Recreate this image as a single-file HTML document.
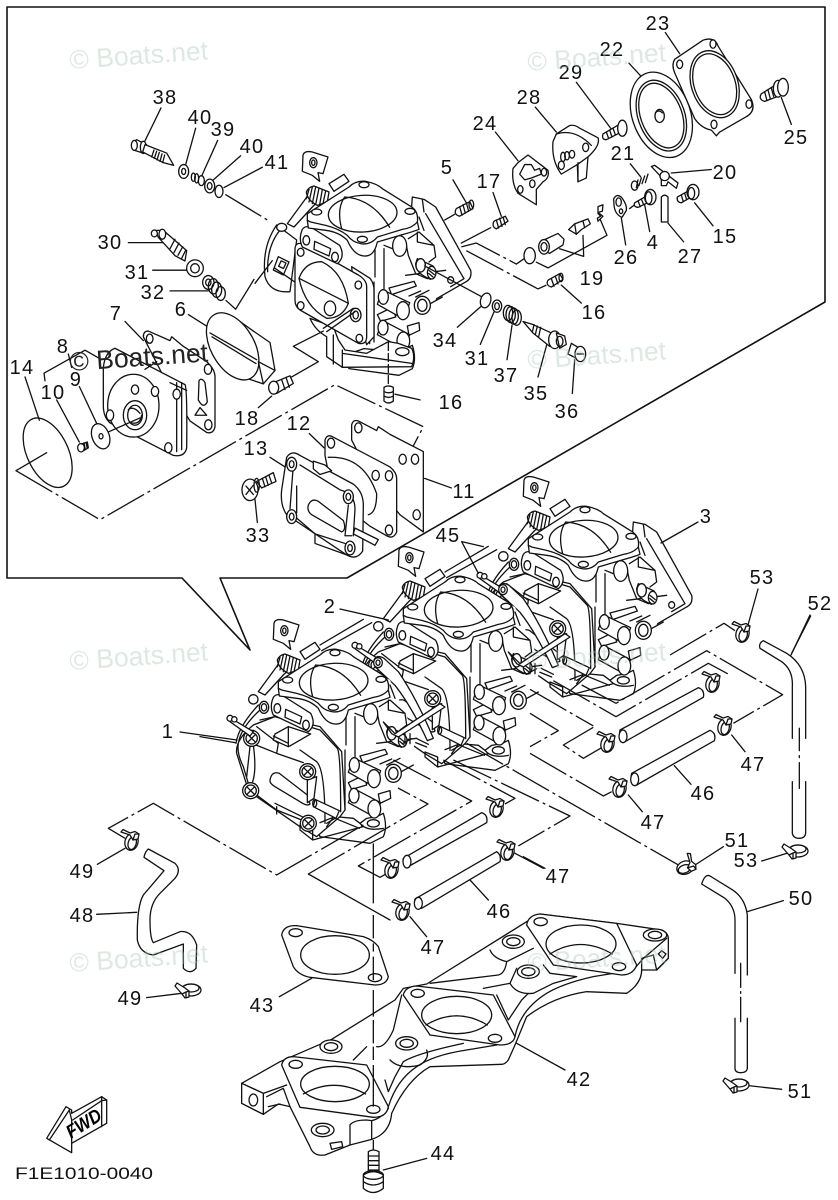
<!DOCTYPE html>
<html><head><meta charset="utf-8"><title>Carburetor diagram</title>
<style>
html,body{margin:0;padding:0;background:#fff}
svg{display:block}
path,ellipse,circle,line,rect,polygon,polyline{vector-effect:non-scaling-stroke}
.l{fill:none;stroke:#111;stroke-width:1.3;stroke-linejoin:round;stroke-linecap:round}
.w{fill:#fff}
.n{fill:none}
.d{stroke-dasharray:42 4 3 4;stroke-linecap:butt}
.t text{font-family:"Liberation Sans",sans-serif;font-size:20px;letter-spacing:1.3px;fill:#111;text-anchor:middle}
.m text{font-family:"Liberation Sans",sans-serif;font-size:26.5px;fill:#a9c2b3;fill-opacity:.38}
</style></head><body>
<svg xmlns="http://www.w3.org/2000/svg" width="838" height="1200" viewBox="0 0 838 1200">
<defs>
<g id="clip"><ellipse class="w" cx="0" cy="2" rx="6.500" ry="8.500" transform="rotate(15)"/><ellipse class="n" cx="1" cy="3" rx="4" ry="6.500" transform="rotate(15)"/><path class="w" d="M-11,-8 L-9,-10.500 L-2,-7 L3,-8.500 L7,-6 L6,-1 L1,0 L-2,-5 Z"/><path class="n" d="M1,0 L3,-6 L7,-6"/></g>
<g id="clipH"><ellipse class="w" cx="3" cy="-2" rx="10" ry="6"/><ellipse class="n" cx="3" cy="-4" rx="8" ry="4"/><path class="w" d="M-13,-6 L-11,-9 L-3,-4 L1,-1 L1,5 L-3,6 L-6,2 Z"/><path class="n" d="M-6,2 L-2,0 L1,-1 M-2,0 V6"/></g>
<g id="x"><circle class="w" cx="0" cy="0" r="24"/><circle class="n" cx="0" cy="0" r="17"/><path class="n" d="M-10,-10 L10,10 M-10,10 L10,-10"/></g>

<g id="carbS"><!-- side plate of rear/detail carbs -->
<path class="w" d="M490,165 L525,172 L560,195 L665,385 Q670,410 650,420 L530,489 L480,300Z"/>
<path class="n" d="M530,215 L645,410 L605,434 M520,172 L525,210"/>
<ellipse class="w" cx="605" cy="414" rx="9" ry="10"/>
</g>

<g id="carbB"><!-- body behind cover -->
<path d="M45,400 L120,240 L175,205 L320,120 L510,210 L560,320 L590,385 L520,590 L490,665 L440,695 L300,685 L240,650 L85,550 Z" fill="#fff" stroke="none"/>
<!-- right body -->
<path class="n" d="M405,320 V440 M378,320 V405 M430,320 L405,310"/>
<path class="n" d="M510,225 L525,265 M478,290 L510,270 L555,310 L560,345 L540,360 M470,300 L478,340 L500,395 L535,410 M505,270 V300 L555,310 M470,400 L590,385"/>
<path class="w" d="M505,350 L552,372 L560,395 L545,412 Q500,395 500,365Z"/><ellipse class="w" cx="515" cy="370" rx="14" ry="20"/><ellipse class="w" cx="548" cy="392" rx="13" ry="19"/><path class="n" d="M540,385 L556,398 M539,394 L552,405"/>
<ellipse class="w" cx="452" cy="312" rx="21" ry="31"/>
<!-- shafts under cylinders -->
<path class="w" d="M420,438 L495,418 L502,432 L428,458Z"/>
<path class="w" d="M475,552 L510,542 L512,565 L480,580Z"/><path class="w" d="M385,518 L432,495 L440,525 L395,538Z"/>
<!-- lower lug -->
<path class="w" d="M345,620 L400,625 L420,640 L440,625 L470,620 L490,610 Q503,650 490,680 L450,700 L300,680 L285,640Z"/>
<ellipse class="w" cx="460" cy="640" rx="18" ry="11"/>
<path class="n" d="M420,640 Q440,665 490,655"/>
<!-- rim lines -->
<path class="n" d="M375,420 V600 M362,425 V605"/>
<!-- cylinders -->
<path class="w" d="M400,443 L482,482 L465,532 L385,487 Z"/><ellipse class="w" cx="403" cy="465" rx="15" ry="22"/><ellipse class="w" cx="462" cy="506" rx="19" ry="27"/>
<path class="w" d="M400,535 L482,578 L465,622 L385,578 Z"/><ellipse class="w" cx="402" cy="557" rx="15" ry="22"/><ellipse class="w" cx="463" cy="597" rx="19" ry="27"/>
<ellipse class="w" cx="520" cy="490" rx="24" ry="27"/><ellipse class="w" cx="520" cy="490" rx="14" ry="18"/>
<path class="n" d="M480,462 L515,447 M500,465 L540,445 M544,485 L580,465"/>
</g>

<g id="carbP"><!-- cover with screws -->
<path class="w" d="M100,345 L165,320 L300,350 L365,425 L375,600 L360,620 L290,680 L240,650 L110,560 L85,540 L50,430 Q45,390 100,345Z"/>
<path class="n" d="M120,330 L165,320 L300,360 L352,415 Q362,430 362,605 M110,350 L175,400 L170,430 L250,458 M290,455 Q315,480 315,640 M240,420 L290,455 M108,405 L170,430"/>
<path class="n" d="M48,400 Q55,350 115,285 M56,395 Q65,350 122,298 M55,400 Q50,430 70,470 L85,520 M100,405 Q110,480 98,515 M90,410 L80,500"/>
<path class="n" d="M110,555 L170,600 L245,630 M170,590 V612 M165,580 L250,622 M240,660 L278,690 M278,690 V660 L240,645 V660 M278,690 L430,650 M320,640 L345,625 L418,655"/>
<path class="w" d="M165,372 L205,350 L272,372 L215,405 L205,410 L160,390 Z"/><path class="n" d="M205,350 L205,410 M160,378 L205,400"/>
<path class="w" d="M150,510 Q155,482 178,490 L262,555 L270,582 Q262,590 240,575 L165,530 Q148,520 150,510Z"/>
<path class="w" d="M262,510 L290,500 L282,565 L262,578Z"/>
<path class="w" d="M285,568 L358,602 L348,625 L280,590Z"/><ellipse class="n" cx="284" cy="580" rx="6" ry="11"/>
<path class="n" d="M300,638 L340,622 L320,650"/>
<use href="#x" x="95" y="385"/><use href="#x" x="92" y="542"/><use href="#x" x="263" y="485"/>
<path class="w" d="M25,320 L100,365 L90,378 L30,335Z"/><circle class="w" cx="30" cy="325" r="9"/><circle class="w" cx="43" cy="328" r="8"/>
<circle class="w" cx="100" cy="268" r="14"/>
<ellipse class="w" cx="132" cy="292" rx="14" ry="18"/><ellipse class="n" cx="132" cy="292" rx="8" ry="11"/>
</g>

<g id="carbF"><!-- flange, spring, bracket -->
<path class="w" d="M162,40 Q165,25 190,30 L237,45 L222,95 L207,92 L212,118 L190,100 L160,88 Z"/>
<ellipse class="w" cx="193" cy="62" rx="11" ry="15"/><ellipse class="n" cx="193" cy="62" rx="5" ry="8"/>
<path class="w" d="M115,245 L170,170 L180,155 L215,170 L190,195 L135,255 Z"/>
<path class="w" d="M240,125 L285,97 L300,118 L255,148Z"/>
<path class="w" d="M172,150 Q178,135 195,132 L240,150 L235,180 L205,190 Q175,175 172,150Z"/>
<path class="n" d="M180,142 L172,170 M190,135 L180,180 M200,135 L190,185 M210,138 L200,188 M220,142 L212,188 M230,147 L222,185"/>
<!-- lozenge -->
<path class="w" d="M160,262 Q170,248 190,258 L272,310 Q290,345 265,365 L160,315 Q148,290 160,262Z"/>
<ellipse class="w" cx="172" cy="295" rx="10" ry="14"/><ellipse class="w" cx="258" cy="345" rx="10" ry="14"/>
<path class="w" d="M197,298 L245,320 L240,342 L195,322Z"/>
<!-- flange -->
<path class="w" d="M175,215 L300,135 Q320,115 350,118 Q385,125 400,140 L480,190 Q510,205 505,240 L510,262 Q490,270 460,278 L385,300 Q375,345 345,342 Q315,340 295,295 Q270,270 230,265 L178,258 L175,235Z"/>
<path class="n" d="M175,235 L185,240 L230,250 Q270,260 295,280 Q310,300 335,305 Q365,310 385,285 L460,262 Q490,258 505,240"/>
<ellipse class="w" cx="341" cy="215" rx="103" ry="55" transform="rotate(-3 341 215)"/>
<path class="n" d="M278,260 Q262,200 287,165 M287,165 Q370,170 422,256"/>
<ellipse class="w" cx="203" cy="210" rx="15" ry="9"/><ellipse class="w" cx="345" cy="128" rx="15" ry="9"/><ellipse class="w" cx="483" cy="208" rx="15" ry="9"/><ellipse class="w" cx="340" cy="292" rx="15" ry="9"/>
</g>

<g id="band">
<path class="w" d="M462,150 Q470,132 492,145 L535,185 Q590,265 640,385 L622,392 Q575,290 525,226 L465,170Z"/>
<ellipse class="w" cx="474" cy="158" rx="13" ry="15"/><ellipse class="n" cx="474" cy="158" rx="6" ry="8"/>
</g>
</defs>

<g class="l">
<!-- FRAME -->
<path d="M7,7 H825 V302 L347,578 H220 L250,650 L182,578 H7 Z" stroke-width="1.6"/>

<!-- MAIN VIEW -->
<g transform="translate(470,467) scale(.33333)">
<use href="#carbS"/><use href="#carbB"/><use href="#carbP"/><use href="#carbF"/>
</g>
<g transform="translate(345,537) scale(.33333)"><use href="#band"/></g>
<g transform="translate(345,537) scale(.33333)">
<path d="M300,105 L430,28 M305,122 L455,38"/>
<use href="#carbB"/><use href="#carbP"/><use href="#carbF"/>
</g>
<g transform="translate(220,610) scale(.33333)"><use href="#band"/></g>
<g transform="translate(470,467) scale(.33333)">
<path class="w" d="M115,555 L140,590 L160,600 L300,510 L285,500 L150,590 Z"/>
<path class="n" d="M180,590 V620 M195,590 V620 M172,620 L200,605"/>
</g>
<g transform="translate(220,610) scale(.33333)">
<path d="M300,105 L430,28 M305,122 L455,38"/>
<use href="#carbB"/><use href="#carbP"/><use href="#x" x="265" y="640"/><use href="#carbF"/>
</g>
<g transform="translate(345,537) scale(.33333)">
<path class="w" d="M115,555 L140,590 L160,600 L300,510 L285,500 L150,590 Z"/>
<path class="n" d="M180,590 V620 M195,590 V620 M172,620 L200,605"/>
</g>
<g transform="translate(200,500) scale(.33333)">
<path d="M0,710 L105,728 M420,327 L565,360 M785,125 L850,140 M785,125 L835,220"/>
</g>
<path d="M698,522 L661,543 M758,589 L748,625 M810,615 L791,655 M180,732 L237,740"/>

<!-- chains main -->
<g transform="translate(530,590) scale(.33333)">
<path class="d" d="M420,195 L582,100 L615,122"/>
<path class="d" d="M155,285 L258,340 L530,182 L758,314 L610,400"/>
<path class="d" d="M70,272 L258,380 L535,220 L600,255"/>
<path class="d" d="M190,412 L100,465 L160,505 L220,470"/>
<path class="d" d="M0,298 L190,408"/>
<path class="d" d="M0,370 L85,422 L0,470"/>
<path class="d" d="M0,490 L220,618 L245,605"/>
<path class="d" d="M-190,460 L445,825"/>
<path d="M605,435 L645,485 M433,527 L483,583 M295,615 L337,665 M495,825 L580,770 M695,813 L770,790 M-20,800 L45,835"/>
<!-- tubes -->
<path class="w" d="M270,420 L505,293 Q525,300 520,322 L285,455 Q265,450 270,420Z"/><ellipse class="w" cx="279" cy="439" rx="12" ry="19"/>
<path class="w" d="M305,550 L540,421 Q560,430 553,452 L320,585 Q298,578 305,550Z"/><ellipse class="w" cx="314" cy="568" rx="12" ry="19"/>
</g>
<use href="#clip" x="743" y="632"/><use href="#clip" x="713" y="682"/><use href="#clip" x="608" y="742"/><use href="#clip" x="725" y="725"/><use href="#clip" x="620" y="787"/>
<g transform="translate(687,867) rotate(55)"><use href="#clip"/></g>
<use href="#clipH" x="795" y="853"/>

<!-- hose 52 -->
<g transform="translate(530,590) scale(.33333)">
<path class="n" d="M787,445 V290 Q790,240 755,215 L690,175 Q685,160 700,152 L770,190 Q825,225 827,290 V445"/>
<path class="w" d="M787,575 V730 Q790,745 808,745 Q825,745 827,730 V575"/>
<path d="M808,415 V482 M808,497 V503 M808,518 V595"/>
<path d="M785,190 L842,78"/>
</g>
<!-- hose 50 -->
<g transform="translate(680,860) scale(.33333)">
<path class="n" d="M202,345 V165 Q195,110 150,85 L90,48 Q75,40 65,72 L135,115 Q165,140 165,180 V340"/>
<path class="w" d="M165,475 V625 Q165,638 183,638 Q200,638 202,625 V475"/>
<path d="M182,310 V382 M182,395 V400 M182,412 V485 M202,155 L310,122 M205,677 L305,688"/>
</g>
<use href="#clipH" x="736" y="1087"/>

<!-- lower-left chains / hose 48 -->
<g transform="translate(90,770) scale(.33333)">
<path class="d" d="M105,205 L55,175 L190,100 L560,315 L820,165"/>
<path class="d" d="M655,312 L1014,102 L924,54"/>
<path d="M655,312 L900,450"/>
<path class="w" d="M175,237 Q165,245 162,262 L222,302 Q190,340 160,375 Q140,410 142,510 Q150,550 190,555 L280,522 V595 Q300,615 318,595 L320,525 Q305,480 270,485 L190,518 Q180,505 180,450 Q180,400 210,370 L255,325 Q275,300 255,280 Z"/>
<path d="M22,283 L105,235 M20,433 L140,427 M170,683 L275,670"/>
</g>
<g transform="translate(300,740) scale(.33333)">
<path class="d" d="M280,60 L515,183 L175,378 L240,412 L265,398"/>
<path class="d" d="M430,60 L645,175 L615,192"/>
<path class="d" d="M460,60 L810,228 L655,318"/>
</g>
<use href="#clip" x="132" y="840"/><use href="#clipH" x="188" y="992"/>
<use href="#clip" x="392" y="868"/><use href="#clip" x="403" y="910"/><use href="#clip" x="497" y="807"/><use href="#clip" x="508" y="850"/>
<g transform="translate(200,500) scale(.33333)">
<path class="w" d="M610,1075 L845,938 Q865,945 860,968 L628,1098 Q605,1095 610,1075Z"/><ellipse class="w" cx="621" cy="1085" rx="12" ry="19"/>
<path d="M945,1060 L1030,1105"/>
</g>
<g transform="translate(200,880) scale(.33333)">
<path class="w" d="M645,57 L890,-85 Q905,-75 900,-55 L665,85 Q640,85 645,57Z"/><ellipse class="w" cx="655" cy="70" rx="12" ry="18"/>
<path d="M810,0 L865,60 M630,110 L680,170"/>

<!-- 43 gasket -->
<path class="w" d="M245,165 Q250,135 290,137 L490,170 Q520,180 535,200 L565,290 Q560,315 525,315 L330,292 Q295,285 280,260 Z"/>
<ellipse class="w" cx="405" cy="225" rx="103" ry="58"/>
<ellipse class="w" cx="287" cy="158" rx="20" ry="12"/><ellipse class="w" cx="525" cy="293" rx="20" ry="12"/>
<path d="M238,350 L335,295"/>

<!-- 42 manifold -->
<path class="w" d="M125,610 L240,545 L395,478 L585,360 L610,325 L680,312 L980,125 L1020,102 L1250,130 L1385,150 Q1405,160 1405,175 V235 L1370,270 L1325,270 Q1325,310 1280,340 L1160,335 Q1060,350 980,410 L945,495 L925,540 Q915,553 905,553 L690,560 Q620,600 575,700 Q570,760 515,778 L450,795 L375,825 Q340,830 330,800 L270,680 L235,672 L190,703 L125,670 Z"/>
<path d="M190,640 L260,615 M190,640 V703 M125,610 L190,640 M200,650 L250,625 L270,680 M205,680 L240,672"/>
<path d="M565,680 Q590,600 650,560 Q700,525 800,510 L890,495 M945,470 Q960,390 1040,340 Q1090,310 1180,290 L1300,270 L1330,235 L1400,175 M1325,270 V235 L1360,225 L1370,270 M1405,235 L1370,270"/>
<path d="M450,795 V735 Q460,720 500,720 L515,722 V778 M515,722 Q545,715 565,685"/>
<path d="M460,540 L500,500 M530,500 Q555,505 580,450 L605,345 M555,600 L565,635 L585,590 L610,545 Q650,520 790,490 M570,540 Q600,570 660,555 Q690,535 680,510"/>
<path d="M870,210 Q880,235 920,245 L1000,205 M920,245 Q915,280 895,285 L690,310 M850,325 L930,310 Q950,345 1000,340 L1060,310 L1130,290 L1050,280 L1030,255 M930,310 L950,265 M890,345 L925,420 L965,360 L985,340"/>
<ellipse class="w" cx="393" cy="500" rx="33" ry="20"/><ellipse class="n" cx="393" cy="500" rx="20" ry="12"/>
<ellipse class="w" cx="940" cy="185" rx="33" ry="20"/><ellipse class="n" cx="940" cy="185" rx="20" ry="12"/>
<ellipse class="w" cx="620" cy="490" rx="33" ry="20"/><ellipse class="n" cx="620" cy="490" rx="20" ry="12"/>
<ellipse class="w" cx="985" cy="275" rx="33" ry="20"/><ellipse class="n" cx="985" cy="275" rx="20" ry="12"/>
<ellipse class="w" cx="368" cy="750" rx="34" ry="20"/><ellipse class="n" cx="368" cy="750" rx="20" ry="12"/>
<ellipse class="w" cx="1365" cy="165" rx="35" ry="18"/><ellipse class="n" cx="1365" cy="165" rx="20" ry="11"/>
<path class="w" d="M390,790 L425,785 L428,800 L395,808Z"/>
<path class="w" d="M1375,222 L1385,212 L1398,222 L1388,235Z"/>
<!-- flanges -->
<path class="w" d="M245,555 Q250,530 280,530 L500,555 L565,680 Q560,712 520,712 L300,682 Z"/>
<ellipse class="w" cx="405" cy="612" rx="103" ry="53"/><path d="M310,642 Q400,590 497,642"/>
<ellipse class="w" cx="287" cy="553" rx="20" ry="12"/><ellipse class="w" cx="520" cy="688" rx="20" ry="12"/>
<path class="w" d="M610,345 Q615,320 650,318 L880,345 L945,470 Q940,495 900,495 L690,465 Z"/>
<ellipse class="w" cx="770" cy="405" rx="105" ry="56"/><path d="M678,435 Q770,380 862,435"/>
<ellipse class="w" cx="653" cy="340" rx="20" ry="12"/><ellipse class="w" cx="885" cy="475" rx="20" ry="12"/>
<path class="w" d="M980,135 Q985,105 1020,102 L1250,130 L1310,255 Q1300,285 1265,285 L1060,255 Z"/>
<ellipse class="w" cx="1143" cy="192" rx="105" ry="57"/><path d="M1050,222 Q1140,165 1237,222"/>
<ellipse class="w" cx="1022" cy="125" rx="20" ry="12"/><ellipse class="w" cx="1257" cy="260" rx="20" ry="12"/>
<path class="w" d="M190,640 L190,703 L125,670 V610 Z"/><ellipse class="w" cx="160" cy="660" rx="13" ry="18"/>
<!-- 44 -->
<path class="w" d="M505,815 Q520,805 537,815 V880 H505Z"/>
<path d="M505,828 H537 M505,842 H537 M505,856 H537 M505,870 H537"/>
<path class="w" d="M490,885 Q520,865 550,885 V925 Q520,950 490,925Z"/><ellipse class="n" cx="520" cy="885" rx="30" ry="13"/><path d="M490,905 Q520,925 550,905"/>
<path d="M550,870 L680,835 M950,490 L1095,570"/>
<!-- vertical chain -->
<path d="M520,-110 V75 M520,105 V175 M520,190 V215 M520,230 V300 M520,330 V410 M520,420 V490 M520,500 V540 M520,555 V680 M520,780 V810" stroke-dasharray="60 5 4 5" stroke-linecap="butt"/>
</g>
<!-- FWD arrow -->
<g transform="translate(0,1060) scale(.33333)">
<path class="w" d="M140,235 L198,140 L215,150 L215,160 L305,110 L320,120 V190 L215,250 V278 Z"/>
<path d="M148,240 L208,150 M305,110 V122 L320,120 M218,180 L305,122 V200 M215,180 V250"/>
<path d="M208,150 L215,180"/>
</g>

<!-- DETAIL VIEW carb -->
<g transform="translate(249,142) scale(.33333)">
<use href="#carbS"/><use href="#carbB"/>
</g>
<g transform="translate(255,140) scale(.33333)">
<path class="w" d="M65,255 Q20,320 30,410 Q45,460 105,455 L125,300Z"/>
<path class="n" d="M75,270 Q35,320 38,395"/><ellipse class="w" cx="80" cy="262" rx="15" ry="12"/>
<path class="w" d="M70,350 L102,366 L85,405 L55,390Z"/><rect class="n" x="74" y="365" width="16" height="18" transform="rotate(25 82 374)"/>
<path d="M60,385 L125,430 M0,430 L52,362"/>
<path class="w" d="M165,535 Q180,570 215,590 V650 L262,682 L470,680 Q482,650 470,625 L430,610 L400,605 L335,640 L270,630 L250,600 L235,560Z"/>
<path class="n" d="M235,585 V672 M262,630 V682 M262,640 L470,670"/>
<ellipse class="w" cx="442" cy="635" rx="20" ry="12"/>
<path class="w" d="M290,380 L345,415 Q357,430 357,450 V590 L335,614 L300,500Z"/>
<path class="w" d="M120,325 Q122,305 145,312 L310,405 Q335,420 335,440 V590 Q335,615 310,610 L135,510 Q120,500 120,480 Z"/>
<path class="n" d="M132,415 Q150,365 200,365 Q265,395 280,490 Q262,535 215,535 Q150,500 132,415Z"/>
<path d="M132,415 L280,490"/>
<ellipse class="w" cx="225" cy="505" rx="17" ry="22"/>
<ellipse class="w" cx="137" cy="337" rx="10" ry="12"/><ellipse class="w" cx="310" cy="435" rx="10" ry="12"/><ellipse class="w" cx="137" cy="497" rx="10" ry="12"/><ellipse class="w" cx="313" cy="595" rx="10" ry="12"/>
<ellipse class="w" cx="302" cy="525" rx="16" ry="20"/><ellipse class="n" cx="302" cy="525" rx="8" ry="12"/>
<path d="M215,575 L300,515 M205,565 L295,505"/>
</g>
<g transform="translate(249,142) scale(.33333)"><use href="#carbF"/></g>

<!-- zoom1 coordinate group -->
<g transform="scale(.33333,.38270)">
<path d="M483,282 L435,368 M587,335 L557,430 M653,367 L605,460 M722,407 L640,470 M787,437 L672,490 M385,634 H490 M458,706 H565 M510,760 H625 M565,822 L625,855 M375,840 L430,890 M75,985 L118,1098 M170,1045 L238,1155 M238,1010 L292,1110 M775,1065 L815,1035 M928,1133 L972,1170 M810,1195 L855,1220 M765,1305 L772,1365 M205,925 L215,960 M1185,1030 L1260,1045"/>
<path class="d" d="M676,508 L812,580"/>
<path d="M678,785 L707,808 L762,730"/>
<path d="M135,995 L132,975 L255,915 L305,940"/>
<path class="d" d="M48,1230 L300,1358 L1005,1005 L1270,1115 L1240,1165"/>
<path d="M48,1230 L140,1183"/>
<path d="M875,985 L955,945 L880,905 L970,865"/>
<path d="M1165,895 V1010" stroke-dasharray="8 3"/>

<!-- 38 screw -->
<path class="w" d="M395,375 L410,365 L440,378 L430,400 L400,392 Z"/><ellipse class="w" cx="403" cy="380" rx="9" ry="13"/><ellipse class="w" cx="430" cy="385" rx="9" ry="16"/>
<path class="w" d="M435,378 L500,400 L521,432 L490,425 L428,397Z"/>
<path d="M462,392 L455,410 M470,395 L463,414 M478,398 L471,418 M486,402 L480,422 M494,405 L488,425"/>
<!-- 40 39 40 41 -->
<ellipse class="w" cx="551" cy="448" rx="15" ry="18"/><ellipse class="n" cx="551" cy="448" rx="6" ry="8"/>
<ellipse class="n" cx="580" cy="463" rx="6" ry="11"/><ellipse class="n" cx="590" cy="466" rx="6" ry="12"/><ellipse class="n" cx="604" cy="472" rx="9" ry="13"/>
<ellipse class="w" cx="629" cy="486" rx="15" ry="18"/><ellipse class="n" cx="629" cy="486" rx="7" ry="9"/>
<ellipse class="n" cx="657" cy="500" rx="12" ry="16"/>
<!-- 30 -->
<path class="w" d="M465,602 L490,602 L560,655 L555,682 L525,668 L475,620Z"/><circle class="w" cx="463" cy="610" r="9"/><ellipse class="w" cx="487" cy="612" rx="10" ry="13"/>
<path d="M525,625 L510,650 M537,635 L522,660 M548,645 L534,667 M557,654 L545,675"/>
<!-- 31 32 -->
<ellipse class="w" cx="585" cy="701" rx="25" ry="22"/><ellipse class="n" cx="585" cy="701" rx="13" ry="12"/>
<ellipse class="n" cx="625" cy="738" rx="17" ry="18"/><ellipse class="n" cx="625" cy="738" rx="8" ry="9"/><ellipse class="n" cx="640" cy="748" rx="15" ry="20"/><ellipse class="n" cx="650" cy="757" rx="15" ry="20"/><ellipse class="n" cx="662" cy="767" rx="14" ry="18"/>
<!-- 6 -->
<path class="w" d="M720,840 L760,865 L810,895 L825,968 L790,1003 L745,990 L700,960Z"/>
<ellipse class="w" cx="698" cy="905" rx="62" ry="100" transform="rotate(-38 698 905)"/>
<path d="M630,870 L770,940 M636,880 L768,950 M775,945 L790,1003 M775,945 L825,968"/>
<!-- 7 -->
<path class="w" d="M430,880 Q430,865 445,865 L510,890 L515,880 L550,905 L620,945 Q645,965 645,985 V1115 Q640,1135 620,1130 L570,1100 L500,1000Z"/>
<ellipse class="w" cx="449" cy="885" rx="10" ry="12"/><ellipse class="w" cx="624" cy="965" rx="11" ry="13"/><ellipse class="w" cx="625" cy="1110" rx="11" ry="13"/>
<path d="M597,995 Q605,985 615,1000 L622,1050 Q610,1070 595,1045Z M600,1065 L620,1085 L585,1085Z"/>
<!-- cover -->
<path class="w" d="M310,960 Q315,920 345,910 L555,1005 Q562,1015 560,1170 Q555,1195 520,1190 L330,1105 Q310,1090 310,1060Z"/>
<path d="M435,965 L470,945 M545,1000 V1175 M530,1000 V1180 M510,1000 L560,1020"/>
<ellipse class="w" cx="400" cy="1060" rx="77" ry="82"/>
<ellipse class="w" cx="405" cy="1085" rx="35" ry="38"/><ellipse class="n" cx="405" cy="1085" rx="22" ry="26"/>
<path d="M385,1070 Q400,1060 420,1080 M395,1105 Q420,1110 425,1085"/>
<ellipse class="w" cx="465" cy="1023" rx="11" ry="13"/><ellipse class="w" cx="405" cy="1018" rx="11" ry="12"/><ellipse class="w" cx="330" cy="1085" rx="11" ry="14"/><ellipse class="w" cx="530" cy="1030" rx="11" ry="13"/><ellipse class="w" cx="505" cy="1170" rx="11" ry="13"/>
<path d="M327,1128 L420,1092"/>
<!-- 14, 9, 10 -->
<ellipse class="n" cx="143" cy="1183" rx="60" ry="100" transform="rotate(-32 143 1183)"/>
<ellipse class="w" cx="302" cy="1140" rx="25" ry="35" transform="rotate(-30 302 1140)"/><ellipse class="n" cx="303" cy="1140" rx="6" ry="7"/>
<ellipse class="w" cx="243" cy="1170" rx="10" ry="11"/><path d="M245,1160 L262,1155 L265,1170 L250,1178 M252,1157 L256,1175 M258,1156 L262,1172"/>
<!-- 18 -->
<path class="w" d="M820,1000 L870,982 L880,1002 L830,1028Z"/><ellipse class="w" cx="821" cy="1013" rx="15" ry="17"/>
<path d="M845,992 L855,1018 M858,986 L868,1012"/>
<!-- 16 lower -->
<path class="w" d="M1152,1012 Q1165,1005 1180,1012 V1048 Q1165,1058 1152,1048Z"/><path d="M1152,1023 Q1165,1030 1180,1023 M1152,1035 Q1165,1042 1180,1035"/>
<!-- 11, 12 -->
<path class="w" d="M1055,1150 V1110 Q1060,1095 1075,1100 L1130,1125 L1135,1115 L1170,1135 L1270,1180 L1270,1390 L1200,1345 L1120,1260Z"/>
<ellipse class="w" cx="1075" cy="1118" rx="11" ry="13"/><ellipse class="w" cx="1208" cy="1200" rx="11" ry="13"/><ellipse class="w" cx="1245" cy="1200" rx="11" ry="13"/><ellipse class="w" cx="1250" cy="1345" rx="11" ry="13"/>
<path class="w" d="M975,1190 V1150 Q980,1135 995,1140 L1170,1220 Q1190,1235 1190,1250 V1390 Q1180,1410 1160,1400 L1110,1375 L1000,1300Z"/>
<ellipse class="w" cx="993" cy="1158" rx="11" ry="13"/><ellipse class="w" cx="1127" cy="1242" rx="11" ry="13"/><ellipse class="w" cx="1167" cy="1243" rx="11" ry="13"/><ellipse class="w" cx="1167" cy="1385" rx="11" ry="13"/>
<path d="M985,1195 Q1090,1190 1130,1290 Q1130,1340 1105,1345"/>
<!-- 13 -->
<path class="w" d="M860,1195 Q875,1175 900,1190 L1060,1265 Q1090,1285 1090,1320 L1088,1440 Q1070,1465 1040,1450 L860,1345 Q840,1320 845,1280 Z"/>
<path d="M880,1215 L870,1330 M900,1215 L1020,1280 Q1065,1290 1065,1330 L1060,1400 M885,1350 L945,1395 L1035,1420 M945,1395 V1420 L1040,1450 M890,1270 V1340 M1045,1320 L1035,1400 L1055,1400"/>
<path class="w" d="M940,1205 L975,1215 L995,1230 L960,1240 L940,1225Z"/>
<path class="w" d="M925,1320 Q935,1300 955,1310 L1030,1360 Q1040,1385 1025,1390 L935,1345 Q920,1335 925,1320Z"/>
<ellipse class="w" cx="875" cy="1213" rx="15" ry="18"/><ellipse class="n" cx="875" cy="1213" rx="7" ry="9"/>
<ellipse class="w" cx="1045" cy="1298" rx="15" ry="18"/><ellipse class="n" cx="1045" cy="1298" rx="7" ry="9"/>
<ellipse class="w" cx="875" cy="1350" rx="15" ry="18"/><ellipse class="n" cx="875" cy="1350" rx="7" ry="9"/>
<ellipse class="w" cx="1050" cy="1432" rx="15" ry="18"/><ellipse class="n" cx="1050" cy="1432" rx="7" ry="9"/>
<path class="w" d="M1065,1380 L1135,1410 L1125,1425 L1060,1395Z"/>
<!-- 33 screw -->
<path class="w" d="M770,1258 L820,1235 L828,1258 L785,1275Z"/><path d="M787,1250 L795,1272 M797,1246 L805,1268 M807,1242 L815,1262"/>
<ellipse class="w" cx="750" cy="1280" rx="24" ry="28"/><path d="M738,1270 L760,1292 M738,1292 L760,1268"/><ellipse class="n" cx="770" cy="1268" rx="8" ry="18"/>
</g>

<!-- zoom2 coordinate group -->
<g transform="translate(418,0) scale(.33333,.38270)">
<path d="M742,85 L785,140 M633,165 L675,205 M475,215 L578,335 M352,280 L415,345 M232,345 L300,420 M105,470 L145,530 M80,575 L110,560 M225,503 L250,565 M130,635 L218,595 M637,428 L668,462 M760,452 L880,443 M680,535 L695,605 M610,570 L623,640 M635,545 L650,535 M750,583 L797,632 M830,530 L885,590 M430,745 L490,792 M118,855 L190,800 M187,900 L228,815 M267,940 L282,850 M360,985 L388,895 M463,1028 L470,940 M20,1250 L100,1275 M1090,255 L1120,325"/>
<path class="d" d="M130,645 L175,635 L295,690 L320,675"/>
<path class="d" d="M145,655 L360,755 L385,745"/>
<path d="M355,685 L390,700 L567,615 L545,570 M497,670 L425,650 M497,670 L495,615 M20,695 L190,775" />
<!-- 23 -->
<path class="w" d="M770,155 L855,105 Q890,95 900,120 L1000,260 Q1015,290 985,305 L905,345 L895,355 L880,340 Q850,335 830,310 L770,190 Q760,170 770,155Z"/>
<ellipse class="w" cx="890" cy="220" rx="68" ry="92" transform="rotate(-28 890 220)"/><ellipse class="n" cx="890" cy="220" rx="60" ry="84" transform="rotate(-28 890 220)"/>
<ellipse class="w" cx="785" cy="168" rx="9" ry="11"/><ellipse class="w" cx="885" cy="115" rx="9" ry="11"/><ellipse class="w" cx="993" cy="272" rx="9" ry="11"/><ellipse class="w" cx="888" cy="325" rx="9" ry="11"/>
<!-- 22 -->
<ellipse class="w" cx="730" cy="300" rx="85" ry="118" transform="rotate(-28 730 300)"/>
<ellipse class="n" cx="730" cy="302" rx="68" ry="98" transform="rotate(-28 730 302)"/><ellipse class="n" cx="730" cy="302" rx="60" ry="90" transform="rotate(-28 730 302)"/>
<ellipse class="w" cx="725" cy="303" rx="14" ry="17"/><path d="M712,295 Q722,285 733,295"/>
<!-- 25 -->
<path class="w" d="M1030,245 L1085,215 L1100,245 L1040,265 Q1020,260 1030,245Z"/><path d="M1040,240 L1047,263 M1050,235 L1057,258 M1060,230 L1067,252 M1070,225 L1077,248"/>
<ellipse class="w" cx="1080" cy="232" rx="14" ry="22"/><ellipse class="w" cx="1095" cy="228" rx="16" ry="23"/>
<!-- 29 -->
<path class="w" d="M555,350 L600,327 L610,345 L565,365 Q550,365 555,350Z"/><path d="M565,345 L572,362 M575,340 L582,358 M585,335 L592,352"/><ellipse class="w" cx="613" cy="335" rx="14" ry="21"/>
<!-- 28 -->
<path class="w" d="M415,350 L455,328 Q470,325 485,335 L540,360 Q548,380 510,410 L505,465 L480,475 L478,430 L430,455 Q400,420 405,370 Z"/>
<path d="M478,430 L510,410 M480,425 V475 M415,350 Q470,335 520,380"/>
<ellipse class="w" cx="503" cy="385" rx="9" ry="11"/><ellipse class="w" cx="430" cy="432" rx="9" ry="11"/><ellipse class="n" cx="435" cy="410" rx="7" ry="12"/><ellipse class="n" cx="447" cy="407" rx="7" ry="11"/><ellipse class="n" cx="462" cy="403" rx="8" ry="10"/>
<!-- 24 -->
<path class="w" d="M300,425 L330,405 L390,445 Q395,465 375,475 L355,495 V535 L300,505 Q280,480 285,440 Z"/>
<path d="M320,430 L340,430 L350,445 L365,440 L370,455 L340,465 L320,470 L305,455 Z"/>
<ellipse class="w" cx="378" cy="450" rx="8" ry="10"/><ellipse class="w" cx="343" cy="480" rx="8" ry="10"/><ellipse class="w" cx="307" cy="495" rx="8" ry="10"/>
<!-- 5 17 16 -->
<path class="w" d="M115,545 L155,527 L165,545 L125,565 Q105,560 115,545Z"/><path d="M125,540 L132,562 M135,535 L142,557 M145,530 L152,552"/><ellipse class="n" cx="160" cy="535" rx="7" ry="12"/>
<path class="w" d="M228,578 L262,565 L270,578 L235,598 Q220,592 228,578Z"/><path d="M235,575 L242,596 M245,570 L252,592 M255,567 L262,587"/>
<path class="w" d="M390,732 L425,715 L435,730 L400,750 Q382,745 390,732Z"/><path d="M400,728 L408,748 M412,722 L420,742"/><ellipse class="n" cx="429" cy="725" rx="6" ry="11"/>
<!-- O ring, 19 -->
<ellipse class="w" cx="335" cy="668" rx="17" ry="21"/>
<path class="w" d="M370,630 L420,610 L438,625 L435,640 L395,662 Q360,650 370,630Z"/><ellipse class="w" cx="378" cy="645" rx="16" ry="19"/><ellipse class="n" cx="378" cy="645" rx="9" ry="11"/>
<path class="w" d="M470,585 L510,572 L517,585 L490,600 L475,612 L452,600Z"/><path d="M470,585 L475,612 M495,578 L500,595"/>
<path class="w" d="M540,540 L555,535 L553,552 L540,555 L555,565 L540,578 L538,570 L548,565 L540,558Z"/>
<!-- 21 20 -->
<ellipse class="n" cx="650" cy="485" rx="10" ry="12"/><path d="M660,470 L655,490 M670,465 L663,485 M680,460 L672,480 M690,455 L682,477"/>
<path class="w" d="M700,435 L710,432 L735,448 L780,478 L775,492 L750,475 L745,485 H730 V470 L725,458 Z"/><ellipse class="w" cx="740" cy="460" rx="14" ry="12"/>
<!-- 4 15 26 27 -->
<path class="w" d="M650,530 L690,510 L700,525 L660,542 Q645,540 650,530Z"/><path d="M660,525 L667,540 M670,520 L677,535 M680,515 L687,530"/><ellipse class="w" cx="697" cy="515" rx="17" ry="20"/><ellipse class="n" cx="692" cy="517" rx="10" ry="16"/>
<path class="w" d="M778,515 L815,497 L825,512 L790,530 Q775,528 778,515Z"/><path d="M790,510 L796,527 M800,505 L806,522 M810,500 L816,517"/><ellipse class="w" cx="825" cy="502" rx="18" ry="20"/><ellipse class="n" cx="820" cy="505" rx="10" ry="15"/>
<path class="w" d="M587,520 Q595,505 610,515 Q628,535 625,550 L612,568 Q590,560 588,535Z"/><ellipse class="n" cx="602" cy="528" rx="8" ry="11"/><ellipse class="n" cx="609" cy="552" rx="5" ry="6"/>
<path class="w" d="M730,515 Q740,505 750,515 V580 H730 Z"/>
<!-- 34 31 37 -->
<ellipse class="n" cx="203" cy="785" rx="15" ry="20" transform="rotate(25 203 785)"/>
<ellipse class="w" cx="237" cy="800" rx="14" ry="16"/><ellipse class="n" cx="237" cy="800" rx="7" ry="9"/>
<ellipse class="n" cx="270" cy="818" rx="14" ry="20"/><ellipse class="n" cx="278" cy="822" rx="14" ry="21"/><ellipse class="n" cx="287" cy="826" rx="14" ry="21"/><ellipse class="n" cx="296" cy="830" rx="14" ry="20"/>
<!-- 35 36 -->
<path class="w" d="M315,840 L345,848 L400,870 L395,905 L345,870 Z"/><path d="M348,848 L343,868 M358,852 L352,874 M368,855 L362,880"/>
<ellipse class="w" cx="410" cy="888" rx="18" ry="23"/><path class="w" d="M415,870 L440,878 L445,900 L425,910 Z"/><ellipse class="n" cx="425" cy="892" rx="10" ry="13"/>
<path class="w" d="M460,897 L500,918 L490,943 L450,925 Z"/><ellipse class="w" cx="487" cy="925" rx="16" ry="20"/><path d="M477,925 L497,925"/>
</g>
</g>

<!-- FWD text -->
<text transform="translate(71,1139) rotate(-32)" font-family="Liberation Sans, sans-serif" font-weight="bold" font-style="italic" font-size="19" fill="#000" textLength="38" lengthAdjust="spacingAndGlyphs">FWD</text>

<!-- LABELS -->
<g class="t">
<text x="165" y="104">38</text><text x="200" y="124">40</text><text x="223" y="136">39</text><text x="252" y="153">40</text><text x="277" y="169">41</text>
<text x="110" y="249">30</text><text x="137" y="279">31</text><text x="153" y="299">32</text><text x="181" y="316">6</text><text x="116" y="320">7</text>
<text x="63" y="353">8</text><text x="22" y="374">14</text><text x="53" y="399">10</text><text x="76" y="386">9</text><text x="247" y="425">18</text>
<text x="299" y="430">12</text><text x="256" y="455">13</text><text x="258" y="542">33</text>
<text x="658" y="30">23</text><text x="612" y="56">22</text><text x="571" y="79">29</text><text x="529" y="104">28</text><text x="485" y="130">24</text>
<text x="447" y="174">5</text><text x="489" y="188">17</text><text x="623" y="160">21</text><text x="725" y="179">20</text><text x="725" y="243">15</text>
<text x="690" y="263">27</text><text x="653" y="249">4</text><text x="626" y="264">26</text><text x="592" y="285">19</text><text x="594" y="319">16</text>
<text x="796" y="144">25</text><text x="445" y="347">34</text><text x="477" y="365">31</text><text x="506" y="382">37</text><text x="536" y="400">35</text><text x="567" y="418">36</text>
<text x="451" y="409">16</text><text x="464" y="498">11</text><text x="706" y="523">3</text><text x="448" y="542">45</text><text x="762" y="584">53</text>
<text x="820" y="610">52</text><text x="330" y="613">2</text><text x="168" y="738">1</text>
<text x="753" y="771">47</text><text x="703" y="800">46</text><text x="653" y="829">47</text><text x="737" y="847">51</text><text x="746" y="867">53</text>
<text x="558" y="883">47</text><text x="801" y="905">50</text><text x="82" y="878">49</text><text x="82" y="922">48</text><text x="499" y="918">46</text>
<text x="433" y="954">47</text><text x="130" y="1005">49</text><text x="262" y="1012">43</text><text x="579" y="1086">42</text><text x="800" y="1098">51</text><text x="443" y="1160">44</text>
</g>
<text x="15" y="1179" font-family="Liberation Sans, sans-serif" font-size="17" fill="#111" textLength="138" lengthAdjust="spacingAndGlyphs">F1E1010-0040</text>

<!-- WATERMARKS -->
<g class="m">
<text transform="translate(70,69) rotate(-4)">© Boats.net</text>
<text transform="translate(528,71) rotate(-4)">© Boats.net</text>
<text transform="translate(528,369) rotate(-4)">© Boats.net</text>
<text transform="translate(70,670) rotate(-4)">© Boats.net</text>
<text transform="translate(528,670) rotate(-4)">© Boats.net</text>
<text transform="translate(70,972) rotate(-4)">© Boats.net</text>
<text transform="translate(528,972) rotate(-4)">© Boats.net</text>
</g>
<text transform="translate(70,371) rotate(-4)" font-family="Liberation Sans, sans-serif" font-size="26.5" fill="#222">© Boats.net</text>
</svg>
</body></html>
